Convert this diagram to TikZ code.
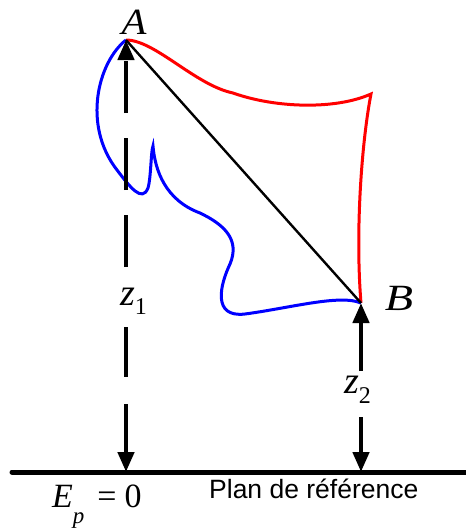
\documentclass[tikz,border=0pt]{standalone}
\usepackage{fontspec}
\setmainfont{Liberation Serif}
\newfontfamily\labelsans{Liberation Sans}
\usetikzlibrary{arrows.meta}
\begin{document}
\begin{tikzpicture}[x=1pt,y=-1pt,
  curve/.style={line width=3pt},
  vecarrow/.style={line width=4.5pt,-{Triangle[length=20pt,width=16pt]}},
  ptlabel/.style={inner sep=0pt,anchor=base,font=\fontsize{37}{37}\selectfont\itshape},
  zlabel/.style={inner sep=0pt,anchor=base west}]
\useasboundingbox (0,0) rectangle (466,528);
% points
\coordinate (A) at (126,40);
\coordinate (B) at (361,303);
\coordinate (G1) at (126,472);
\coordinate (G2) at (361,472);
\coordinate (Z1top) at (126,267);
\coordinate (Z1bot) at (126,327);
\coordinate (Z2top) at (361,371);
\coordinate (Z2bot) at (361,417);
\coordinate (GL) at (12,472);
\coordinate (GR) at (470,472);
% red path
\draw[curve,red] (A) .. controls (155,40) and (195,85) .. (233,93)
  .. controls (275,108) and (335,110) .. (371,94)
  .. controls (362,140) and (355,230) .. (B);
% blue path
\draw[curve,blue] (A) .. controls (98,62) and (82,125) .. (117,170)
  .. controls (130,187) and (142,203) .. (148,188)
  .. controls (151,178) and (151,150) .. (153,146)
  .. controls (155,170) and (165,200) .. (200,213)
  .. controls (225,225) and (240,240) .. (230,264)
  .. controls (220,285) and (212,318) .. (245,314)
  .. controls (290,308) and (340,294) .. (B);
% straight line
\draw[line width=2.4pt] (A) -- (B);
% ground
\draw[line width=5pt,line cap=round] (GL) -- (GR);
% height arrows
\draw[vecarrow,dash pattern=on 52pt off 25pt] (Z1top) -- (A);
\draw[vecarrow,dash pattern=on 50pt off 27pt] (Z1bot) -- (G1);
\draw[vecarrow] (Z2top) -- (B);
\draw[vecarrow] (Z2bot) -- (G2);
% labels
\node[ptlabel,xscale=1.1] (LA) at (134,34) {A};
\node[ptlabel,xscale=1.25] (LB) at (399,310) {B};
\node[zlabel] (Lz1) at (120,305) {\fontsize{38}{38}\selectfont\textit{z}\raisebox{-9pt}{\fontsize{24}{24}\selectfont 1}};
\node[zlabel] (Lz2) at (344,393) {\fontsize{38}{38}\selectfont\textit{z}\raisebox{-10pt}{\fontsize{24}{24}\selectfont 2}};
\node[inner sep=0pt,anchor=base west] (Ep) at (52,507) {\fontsize{34}{34}\selectfont\textit{E}\raisebox{-16pt}{\fontsize{23}{23}\selectfont\textit{p}}\hspace{13pt}=\hspace{8pt}0};
\node[inner sep=0pt,anchor=base west,font=\labelsans\fontsize{26.5}{26.5}\selectfont] (plan) at (209,498) {Plan de référence};
\end{tikzpicture}
\end{document}
